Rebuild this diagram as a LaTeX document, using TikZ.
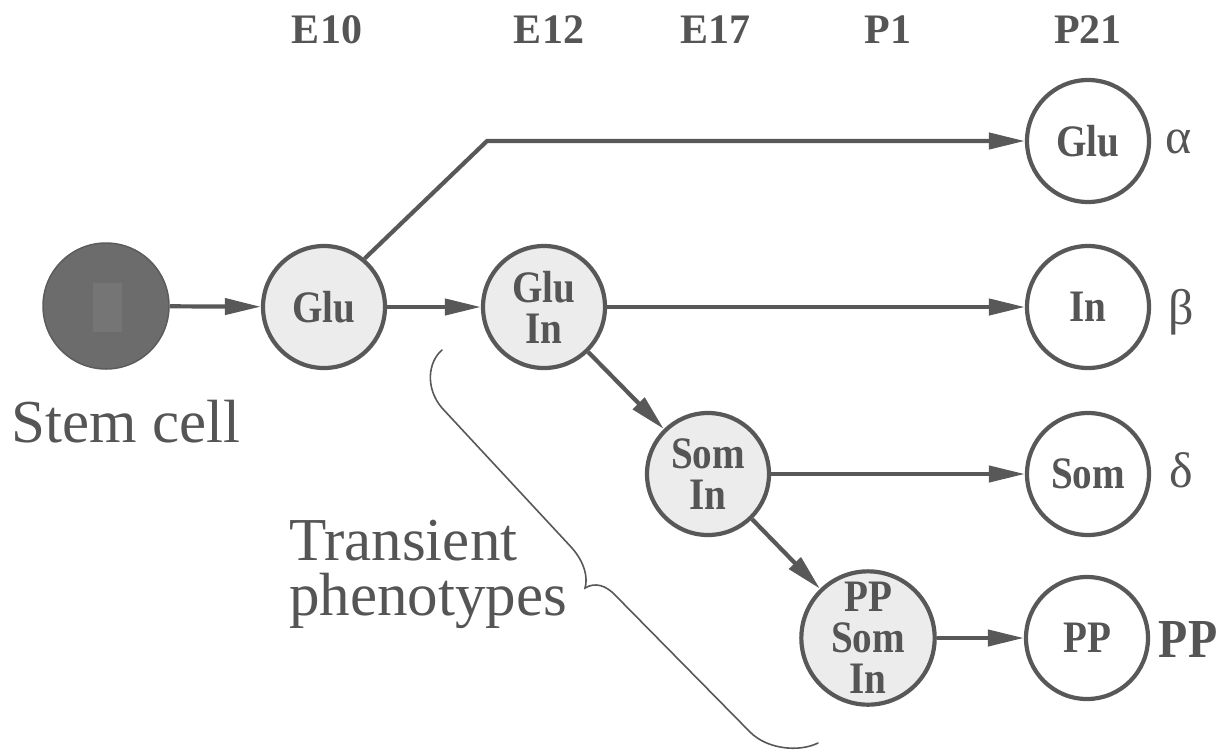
\documentclass[tikz,border=0pt]{standalone}
\usepackage{fontspec}
\setmainfont{Liberation Serif}
\newfontfamily\condserif[FakeStretch=0.87]{Liberation Serif}
\usetikzlibrary{arrows.meta}
\definecolor{lc}{RGB}{88,88,88}
\definecolor{tc}{RGB}{85,85,85}
\definecolor{lf}{RGB}{236,236,236}
\definecolor{stemc}{RGB}{108,108,108}
\definecolor{stemr}{RGB}{117,117,117}
\tikzset{
  cell/.style={circle, draw=lc, line width=4.2pt, minimum size=122pt, inner sep=0pt,
    font=\condserif\bfseries\fontsize{45}{41}\selectfont, text=tc, align=center},
  trans/.style={cell, fill=lf},
  final/.style={cell, fill=white},
  arr/.style={draw=lc, line width=4.2pt, line join=miter, -{Triangle[length=36pt,width=16pt]}},
  stage/.style={font=\bfseries\fontsize{42}{42}\selectfont, text=tc, anchor=base, inner sep=0pt},
  greek/.style={font=\fontsize{50}{50}\selectfont, text=tc, inner sep=0pt},
  bigtext/.style={font=\fontsize{61}{55}\selectfont, text=tc, inner sep=0pt},
}
\begin{document}
\begin{tikzpicture}[x=1pt,y=-1pt]
\useasboundingbox (0,0) rectangle (1223,753);
% stage labels
\node[stage] (e10) at (327,43) {E10};
\node[stage] (e12) at (549,43) {E12};
\node[stage] (e17) at (715,43) {E17};
\node[stage] (p1) at (888,43) {P1};
\node[stage] (p21) at (1088,43) {P21};
% stem cell
\node[circle, fill=stemc, draw=stemc!85!black, line width=1.5pt, minimum size=126pt, inner sep=0pt] (stem) at (106,306) {};
\node[rectangle, fill=stemr, minimum width=29pt, minimum height=49pt, inner sep=0pt] (nucleus) at (107,307) {};
\node[bigtext, anchor=base] (stemlab) at (126,442) {Stem cell};
% transient cells
\node[trans] (g) at (324,307) {Glu};
\node[trans] (gi) at (544,307) {Glu\\In};
\node[trans] (si) at (708,474) {Som\\In};
\node[trans] (psi) at (868,638) {PP\\Som\\In};
% final cells
\node[final] (fg) at (1088,141) {Glu};
\node[final] (fi) at (1088,307) {In};
\node[final] (fs) at (1088,474) {Som};
\node[final] (fp) at (1087,638) {PP};
% greek labels
\node[greek] (alpha) at (1179,142) {α};
\node[greek] (beta) at (1181,312) {β};
\node[greek] (delta) at (1181,470) {δ};
\node[font=\condserif\bfseries\fontsize{55}{55}\selectfont, text=tc, inner sep=0pt] (pplab) at (1188,639) {PP};
% arrows
\coordinate (bend) at (487,141);
\draw[arr] (stem) -- (g);
\draw[arr] (g) -- (gi);
\draw[arr] (g.50) -- (bend) -- (fg);
\draw[arr] (gi) -- (fi);
\draw[arr] (gi) -- (si);
\draw[arr] (si) -- (fs);
\draw[arr] (si) -- (psi);
\draw[arr] (psi) -- (fp);
% brace
\draw[lc, line width=1.6pt, line cap=round]
  (442,350) .. controls (428,362) and (425,388) .. (442,408)
  -- (572,548) .. controls (585,563) and (588,578) .. (585,588)
  .. controls (595,582) and (606,585) .. (616,596)
  -- (750,732) .. controls (768,750) and (800,752) .. (818,743);
% transient label
\node[bigtext, anchor=base west, align=left] (translab) at (289,615) {Transient\\phenotypes};
\end{tikzpicture}
\end{document}
